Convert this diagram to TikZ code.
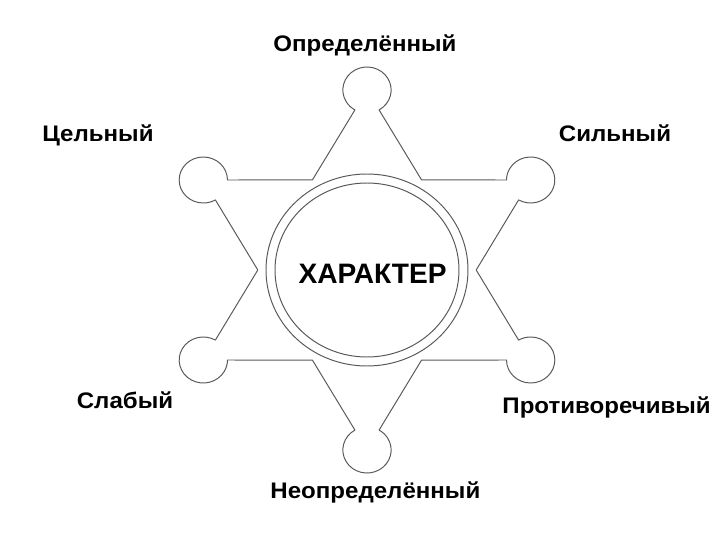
\documentclass[tikz,border=0pt]{standalone}
\usepackage{fontspec}
\setmainfont{Liberation Sans}
\usepackage{tikz}
\usetikzlibrary{calc}

\begin{document}
\begin{tikzpicture}[
	trait/.style={font=\bfseries\fontsize{16}{19}\selectfont,anchor=base,inner sep=0pt,xscale=1.07,transform shape},
	badge/.style={draw=black!65,line width=0.7pt,line join=round}]
	\useasboundingbox (-9.175,-6.75) rectangle (8.825,6.75);
	
	\begin{scope}[x=1.05cm]
		\draw [badge] (0:2.6) \foreach \t in {30,90,...,330} {
			-- ($(\t:4.5)+(\t-150:0.575)$) arc [start angle=\t-150, end angle=\t+150, radius=0.575] -- (\t+30:2.6)
		} -- cycle;
	\end{scope}
	
	\draw [badge] (0,0) ellipse [x radius=2.525, y radius=2.4];
	\draw [badge] (0,0) ellipse [x radius=2.3, y radius=2.175];
	\node [font=\bfseries\fontsize{20}{24}\selectfont,anchor=base,inner sep=0pt] (core) at (0.14,-0.325) {ХАРАКТЕР};
	
	\foreach \pos/\txt/\nm in {(-0.05,5.46)/Определённый/def, (-6.725,3.21)/Цельный/whole, (6.2,3.21)/Сильный/strong,
		(-6.05,-3.45)/Слабый/weak, (5.99,-3.575)/Противоречивый/contra, (0.21,-5.7)/Неопределённый/indef} {
		\node [trait] (\nm) at \pos {\txt};
	}
\end{tikzpicture}
\end{document}
